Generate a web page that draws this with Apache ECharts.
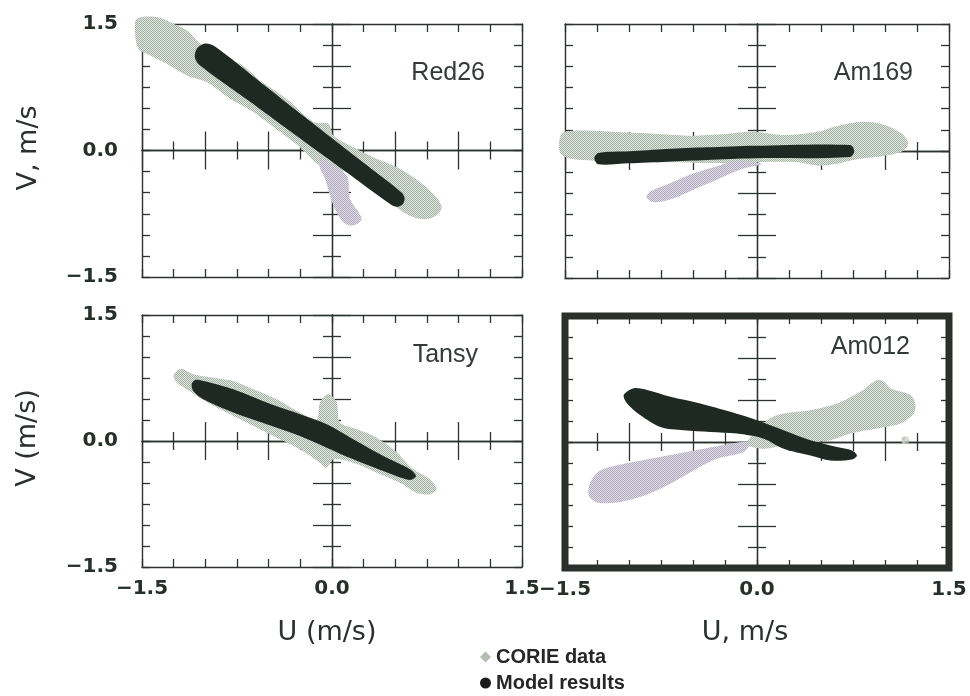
<!DOCTYPE html>
<html>
<head>
<meta charset="utf-8">
<script src="https://cdn.jsdelivr.net/npm/echarts@6/dist/echarts.min.js"></script>
<style>
  html, body { margin: 0; padding: 0; background: #ffffff; }
  #chart { width: 970px; height: 696px; }
</style>
</head>
<body>
<div id="chart"></div>
<script>
// Velocity scatter (U, V) at four CORIE stations: observed clouds vs model results.

// shared axis extent, tick step and labelled ticks
const axisMin = -1.5;
const axisMax = 1.5;
const tickStep = 0.25;
const labelValues = [-1.5, 0, 1.5];
const labelTexts = ['\u22121.5', '0.0', '1.5'];

const panelNames = ['Red26', 'Am169', 'Tansy', 'Am012'];
const uAxisNames = ['U (m/s)', 'U, m/s'];
const vAxisNames = ['V, m/s', 'V (m/s)'];
const legendNames = ['CORIE data', 'Model results'];

// outlines of the observed clouds, [u, v] in m/s
const corieRed26 = [
  [-1.541, 1.562], [-1.384, 1.582], [-1.252, 1.503], [-1.147, 1.424], [-1.068, 1.305],
  [-0.937, 1.127], [-0.726, 1.028], [-0.568, 0.830], [-0.358, 0.613], [-0.147, 0.337],
  [-0.029, 0.317], [0.011, 0.178], [0.168, 0.040], [0.326, -0.079], [0.537, -0.217],
  [0.773, -0.474], [0.866, -0.672], [0.800, -0.791], [0.695, -0.810], [0.563, -0.731],
  [0.405, -0.534], [0.247, -0.356], [0.116, -0.257], [-0.095, -0.178], [-0.253, 0.040],
  [-0.410, 0.218], [-0.621, 0.456], [-0.805, 0.613], [-0.989, 0.811], [-1.147, 0.890],
  [-1.305, 1.028], [-1.463, 1.147], [-1.529, 1.206], [-1.555, 1.404]
];
const corieRed26Branch = [
  [-0.081, -0.099], [0.116, -0.297], [0.142, -0.573], [0.234, -0.810], [0.168, -0.890],
  [0.089, -0.850], [0.011, -0.652], [-0.055, -0.336], [-0.100, -0.178]
];
const corieAm169 = [
  [-1.539, 0.161], [-1.500, 0.228], [-1.292, 0.240], [-1.031, 0.220], [-0.771, 0.201],
  [-0.510, 0.181], [-0.250, 0.201], [-0.042, 0.228], [0.219, 0.189], [0.453, 0.220],
  [0.635, 0.299], [0.818, 0.346], [0.974, 0.319], [1.117, 0.220], [1.182, 0.102],
  [1.143, 0.004], [1.000, -0.055], [0.792, -0.094], [0.609, -0.153], [0.479, -0.173],
  [0.323, -0.134], [0.089, -0.126], [-0.146, -0.142], [-0.432, -0.142], [-0.719, -0.134],
  [-1.031, -0.126], [-1.266, -0.114], [-1.474, -0.086], [-1.539, -0.016]
];
const corieAm169Branch = [
  [-0.146, -0.114], [-0.302, -0.173], [-0.510, -0.272], [-0.693, -0.390], [-0.836, -0.480],
  [-0.862, -0.547], [-0.810, -0.606], [-0.667, -0.567], [-0.484, -0.449], [-0.302, -0.331],
  [-0.120, -0.213], [0.036, -0.153]
];
const corieTansy = [
  [-1.226, 0.833], [-1.186, 0.861], [-1.095, 0.794], [-0.937, 0.754], [-0.779, 0.714],
  [-0.621, 0.615], [-0.437, 0.496], [-0.253, 0.338], [-0.121, 0.258], [-0.095, 0.457],
  [-0.029, 0.556], [0.037, 0.457], [0.063, 0.219], [0.195, 0.139], [0.326, 0.060],
  [0.484, -0.099], [0.642, -0.337], [0.773, -0.456], [0.826, -0.575], [0.773, -0.635],
  [0.668, -0.615], [0.537, -0.496], [0.353, -0.377], [0.168, -0.258], [0.011, -0.218],
  [-0.042, -0.317], [-0.095, -0.258], [-0.253, -0.099], [-0.463, 0.060], [-0.673, 0.219],
  [-0.884, 0.377], [-1.068, 0.536], [-1.147, 0.615], [-1.226, 0.695], [-1.252, 0.774]
];
const corieAm012Low = [
  [-1.302, -0.479], [-1.224, -0.340], [-1.041, -0.260], [-0.833, -0.200], [-0.625, -0.140],
  [-0.416, -0.080], [-0.208, -0.020], [-0.052, 0.000], [-0.104, -0.120], [-0.313, -0.200],
  [-0.520, -0.359], [-0.703, -0.519], [-0.885, -0.639], [-1.094, -0.719], [-1.250, -0.719],
  [-1.315, -0.639]
];
const corieAm012High = [
  [-0.078, -0.020], [0.078, 0.259], [0.208, 0.339], [0.417, 0.379], [0.625, 0.459],
  [0.808, 0.599], [0.937, 0.738], [0.990, 0.719], [1.042, 0.639], [1.198, 0.559],
  [1.237, 0.459], [1.224, 0.339], [1.120, 0.219], [0.937, 0.160], [0.729, 0.100],
  [0.573, 0.020], [0.417, 0.000], [0.208, -0.040], [0.052, -0.080]
];
const corieAm012Spots = [[1.159, 0.020]];

// outlines of the model result bands, [u, v] in m/s
const modelRed26 = [
  [-0.932, 1.241], [-0.562, 0.807], [-0.192, 0.371], [0.178, -0.063], [0.549, -0.497],
  [0.573, -0.560], [0.561, -0.630], [0.519, -0.667], [0.473, -0.649], [0.093, -0.234],
  [-0.287, 0.181], [-0.666, 0.598], [-1.046, 1.013], [-1.083, 1.107], [-1.065, 1.212],
  [-1.002, 1.268]
];
const modelAm169 = [
  [-1.271, -0.086], [-1.240, -0.024], [-1.000, -0.004], [-0.706, 0.024], [-0.393, 0.044],
  [-0.016, 0.063], [0.727, 0.071], [0.760, 0.000], [0.727, -0.071], [-0.016, -0.086],
  [-0.393, -0.106], [-0.706, -0.126], [-1.000, -0.145], [-1.240, -0.157]
];
const modelTansy = [
  [-1.081, 0.726], [-1.016, 0.714], [-0.779, 0.615], [-0.516, 0.457], [-0.253, 0.318],
  [-0.042, 0.199], [0.168, 0.020], [0.405, -0.179], [0.616, -0.337], [0.663, -0.417],
  [0.616, -0.464], [0.405, -0.357], [0.168, -0.218], [-0.042, -0.079], [-0.253, 0.060],
  [-0.516, 0.199], [-0.779, 0.338], [-1.016, 0.496], [-1.095, 0.595], [-1.108, 0.675]
];
const modelAm012 = [
  [-1.041, 0.559], [-0.963, 0.639], [-0.859, 0.619], [-0.677, 0.539], [-0.443, 0.459],
  [-0.208, 0.359], [0.000, 0.259], [0.208, 0.140], [0.417, 0.020], [0.625, -0.060],
  [0.742, -0.100], [0.781, -0.160], [0.742, -0.208], [0.573, -0.220], [0.417, -0.160],
  [0.208, -0.080], [0.052, 0.040], [-0.156, 0.100], [-0.364, 0.120], [-0.573, 0.140],
  [-0.755, 0.180], [-0.911, 0.319], [-1.015, 0.459]
];

// which outlines belong to each panel, and the screen tone of each cloud
const panelContent = [
  { corie: [corieRed26, corieRed26Branch], tones: ['green', 'violet'], model: [modelRed26], spots: [] },
  { corie: [corieAm169, corieAm169Branch], tones: ['green', 'violet'], model: [modelAm169], spots: [] },
  { corie: [corieTansy], tones: ['green'], model: [modelTansy], spots: [] },
  { corie: [corieAm012Low, corieAm012High], tones: ['violet', 'green'], model: [modelAm012], spots: corieAm012Spots }
];

// plot rectangles and decorations
const panelLayout = [
  { left: 142, top: 24, width: 380, height: 253, xLabels: false, yLabels: true, heavyFrame: false, title: [485, 73] },
  { left: 565, top: 24, width: 384, height: 254, xLabels: false, yLabels: false, heavyFrame: false, title: [913, 73] },
  { left: 142, top: 315, width: 380, height: 252, xLabels: true, yLabels: true, heavyFrame: false, title: [478, 355] },
  { left: 565, top: 316, width: 384, height: 252, xLabels: true, yLabels: false, heavyFrame: true, title: [910, 347] }
];

const inkColor = '#2c332e';
const modelColor = '#1e2923';

// halftone screens used for the observation clouds
function screen(dark, light) {
  const c = document.createElement('canvas');
  c.width = 2; c.height = 2;
  const g = c.getContext('2d');
  g.fillStyle = light; g.fillRect(0, 0, 2, 2);
  g.fillStyle = dark; g.fillRect(0, 0, 1, 1); g.fillRect(1, 1, 1, 1);
  return { image: c, repeat: 'repeat' };
}
const tones = {
  green: screen('#a3b1a4', '#dfe7df'),
  violet: screen('#b0aabd', '#e1dde8')
};

function labelFor(v) {
  for (let k = 0; k < labelValues.length; k++) {
    if (Math.abs(v - labelValues[k]) < 1e-9) return labelTexts[k];
  }
  return '';
}

const tickFont = { fontFamily: '"DejaVu Sans", sans-serif', fontWeight: 'bold', fontSize: 20, color: '#263029' };

function frameAxis(gridIndex, position, showLabels) {
  const horizontal = position === 'top' || position === 'bottom';
  return {
    type: 'value', gridIndex: gridIndex, position: position,
    min: axisMin, max: axisMax, interval: tickStep,
    axisLine: { show: true, onZero: false, lineStyle: { color: inkColor, width: 1.4 } },
    axisTick: { show: true, inside: true, length: 8, lineStyle: { color: inkColor, width: 1.3 } },
    minorTick: { show: false },
    axisLabel: {
      show: showLabels, margin: horizontal ? 12 : 24,
      showMinLabel: true, showMaxLabel: true,
      formatter: labelFor, ...tickFont
    },
    splitLine: { show: false }
  };
}

function crossAxis(gridIndex, position, inward, zeroIndex) {
  return {
    type: 'value', gridIndex: gridIndex, position: position,
    min: axisMin, max: axisMax, interval: tickStep * 2,
    axisLine: { show: true, onZero: true, onZeroAxisIndex: zeroIndex, lineStyle: { color: inkColor, width: 1.3 } },
    axisTick: { show: true, inside: inward, length: 19, lineStyle: { color: inkColor, width: 1.3 } },
    minorTick: { show: true, splitNumber: 2, length: 9, lineStyle: { color: inkColor, width: 1.3 } },
    axisLabel: { show: false },
    splitLine: { show: false }
  };
}

function outlineRenderer(shapes, fills) {
  return function (params, api) {
    const pts = shapes[params.dataIndex].map(function (p) { return api.coord(p); });
    return {
      type: 'polygon',
      shape: { points: pts, smooth: 0.3 },
      style: { fill: fills[params.dataIndex], stroke: null }
    };
  };
}

const grids = [], xAxes = [], yAxes = [], series = [], graphics = [];

panelLayout.forEach(function (L, i) {
  grids.push({
    left: L.left, top: L.top, width: L.width, height: L.height,
    show: L.heavyFrame, borderColor: '#2a2f2b', borderWidth: L.heavyFrame ? 7 : 0,
    backgroundColor: 'transparent', containLabel: false, outerBoundsMode: 'none'
  });
  const bx = xAxes.length, by = yAxes.length;
  xAxes.push(frameAxis(i, 'bottom', L.xLabels));
  xAxes.push(frameAxis(i, 'top', false));
  xAxes.push(crossAxis(i, 'bottom', false, by));
  xAxes.push(crossAxis(i, 'bottom', true, by));
  yAxes.push(frameAxis(i, 'left', L.yLabels));
  yAxes.push(frameAxis(i, 'right', false));
  yAxes.push(crossAxis(i, 'left', false, bx));
  yAxes.push(crossAxis(i, 'left', true, bx));

  const P = panelContent[i];
  series.push({
    type: 'custom', name: legendNames[0], xAxisIndex: bx, yAxisIndex: by,
    clip: false, silent: true, z: 3,
    itemStyle: { color: '#b9c2b9' },
    encode: { x: 0, y: 1 },
    data: P.corie.map(function (s, k) { return [s[0][0], s[0][1], k]; }),
    renderItem: outlineRenderer(P.corie, P.tones.map(function (t) { return tones[t]; }))
  });
  if (P.spots.length) {
    series.push({
      type: 'scatter', name: legendNames[0], xAxisIndex: bx, yAxisIndex: by,
      symbol: 'circle', symbolSize: 8, silent: true, z: 3,
      itemStyle: { color: tones.green },
      data: P.spots
    });
  }
  series.push({
    type: 'custom', name: legendNames[1], xAxisIndex: bx, yAxisIndex: by,
    clip: false, silent: true, z: 4,
    itemStyle: { color: modelColor },
    encode: { x: 0, y: 1 },
    data: P.model.map(function (s, k) { return [s[0][0], s[0][1], k]; }),
    renderItem: outlineRenderer(P.model, P.model.map(function () { return modelColor; }))
  });

  graphics.push({
    type: 'text', x: L.title[0], y: L.title[1], z: 10,
    style: {
      text: panelNames[i], font: '25px "Liberation Sans", sans-serif', fill: '#343a36',
      align: 'right', verticalAlign: 'middle', textAlign: 'right', textVerticalAlign: 'middle'
    }
  });
});

// axis titles
const nameFont = '27px "DejaVu Sans", sans-serif';
[[29, 148, vAxisNames[0]], [28, 438, vAxisNames[1]]].forEach(function (a) {
  graphics.push({
    type: 'text', x: a[0], y: a[1], rotation: Math.PI / 2, z: 10,
    style: { text: a[2], font: nameFont, fill: '#2a302c', align: 'center', verticalAlign: 'middle', textAlign: 'center', textVerticalAlign: 'middle' }
  });
});
[[327, 633, uAxisNames[0]], [745, 633, uAxisNames[1]]].forEach(function (a) {
  graphics.push({
    type: 'text', x: a[0], y: a[1], z: 10,
    style: { text: a[2], font: nameFont, fill: '#2a302c', align: 'center', verticalAlign: 'middle', textAlign: 'center', textVerticalAlign: 'middle' }
  });
});

const chart = echarts.init(document.getElementById('chart'), null, { renderer: 'canvas' });
chart.setOption({
  animation: false,
  backgroundColor: '#ffffff',
  grid: grids,
  xAxis: xAxes,
  yAxis: yAxes,
  series: series,
  graphic: graphics,
  legend: {
    orient: 'vertical', left: 480, top: 646, padding: 0,
    itemWidth: 11, itemHeight: 11, itemGap: 4,
    selectedMode: false,
    textStyle: {
      fontFamily: '"Liberation Sans Narrow", "Liberation Sans", sans-serif',
      fontWeight: 'bold', fontSize: 20, color: '#262626', lineHeight: 22
    },
    data: [
      { name: legendNames[0], icon: 'diamond', itemStyle: { color: '#b4bdb4' } },
      { name: legendNames[1], icon: 'circle', itemStyle: { color: '#1b1b1b' } }
    ]
  }
});
</script>
</body>
</html>
